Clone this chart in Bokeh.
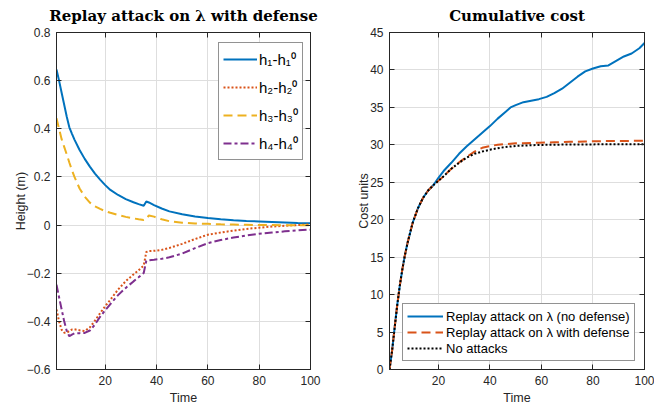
from bokeh.plotting import figure
from bokeh.models import (Legend, LegendItem, LinearAxis, FixedTicker, Range1d,
                          CustomLabelingPolicy)
from bokeh.layouts import row
from bokeh.embed import file_html
from bokeh.resources import INLINE

# ---------------- data: left panel (height deviations) ----------------
t_h = [1, 2, 3, 4, 5, 6, 7, 8, 10, 12, 14, 16, 18, 20, 22, 25, 28, 31, 33, 35,
       36, 37, 39, 42, 45, 50, 55, 60, 65, 70, 75, 80, 85, 90, 95, 100]
h1 = [0.646, 0.60, 0.55, 0.50, 0.45, 0.406, 0.38, 0.355, 0.312, 0.275, 0.243, 0.214,
      0.189, 0.166, 0.146, 0.125, 0.108, 0.095, 0.087, 0.080, 0.098, 0.094, 0.083,
      0.069, 0.057, 0.045, 0.036, 0.029, 0.024, 0.020, 0.017, 0.015, 0.013, 0.011,
      0.009, 0.008]
h2 = [-0.351, -0.40, -0.435, -0.447, -0.447, -0.44, -0.434, -0.433, -0.437, -0.44,
      -0.425, -0.397, -0.366, -0.337, -0.31, -0.268, -0.233, -0.205, -0.188, -0.168,
      -0.112, -0.108, -0.107, -0.103, -0.095, -0.078, -0.058, -0.040, -0.031, -0.023,
      -0.016, -0.011, -0.006, -0.003, 0.000, 0.003]
h3 = [0.444, 0.40, 0.357, 0.325, 0.293, 0.26, 0.229, 0.20, 0.152, 0.118, 0.093, 0.078,
      0.067, 0.058, 0.051, 0.042, 0.034, 0.028, 0.024, 0.021, 0.025, 0.040, 0.035,
      0.024, 0.016, 0.010, 0.007, 0.005, 0.003, 0.002, 0.001, 0.000, 0.000, -0.001,
      -0.001, -0.001]
h4 = [-0.248, -0.30, -0.35, -0.40, -0.44, -0.462, -0.455, -0.45, -0.449, -0.448,
      -0.438, -0.413, -0.381, -0.354, -0.328, -0.291, -0.261, -0.234, -0.217, -0.199,
      -0.148, -0.146, -0.144, -0.140, -0.134, -0.118, -0.096, -0.075, -0.062, -0.052,
      -0.043, -0.036, -0.031, -0.026, -0.022, -0.019]
h_labels = ["h\u2081-h\u2081\u2070", "h\u2082-h\u2082\u2070",
            "h\u2083-h\u2083\u2070", "h\u2084-h\u2084\u2070"]

# ---------------- data: right panel (cumulative cost) ----------------
t_c = [1, 2, 3, 4, 5, 6, 7, 8, 10, 12, 14, 16, 18, 20, 22, 25, 28, 31, 34, 37, 40,
       43, 46, 48, 50, 53, 56, 59, 62, 65, 68, 71, 74, 77, 80, 83, 86, 89, 92, 95,
       98, 100]
cost_no_defense = [0, 2.5, 5.6, 8.6, 11.2, 13.4, 15.3, 16.9, 19.6, 21.5, 22.9, 23.9,
                   24.6, 25.6, 26.5, 27.6, 28.8, 29.8, 30.7, 31.6, 32.5, 33.5, 34.4,
                   35.0, 35.3, 35.7, 35.9, 36.1, 36.4, 36.9, 37.5, 38.3, 39.1, 39.8,
                   40.2, 40.5, 40.6, 41.2, 41.8, 42.2, 42.9, 43.6]
cost_defense = [0, 2.5, 5.6, 8.6, 11.2, 13.4, 15.3, 16.9, 19.6, 21.5, 22.9, 23.9,
                24.6, 25.2, 25.8, 26.8, 27.65, 28.4, 29.1, 29.6, 29.85, 30.0, 30.1,
                30.15, 30.2, 30.22, 30.25, 30.28, 30.3, 30.33, 30.36, 30.4, 30.42,
                30.45, 30.47, 30.49, 30.5, 30.51, 30.52, 30.53, 30.54, 30.55]
cost_no_attack = [0, 2.5, 5.6, 8.6, 11.2, 13.4, 15.3, 16.9, 19.6, 21.5, 22.9, 23.9,
                  24.6, 25.2, 25.8, 26.8, 27.6, 28.3, 28.8, 29.1, 29.35, 29.55, 29.7,
                  29.78, 29.85, 29.9, 29.95, 29.98, 30.0, 30.02, 30.03, 30.04, 30.05,
                  30.06, 30.06, 30.07, 30.07, 30.08, 30.08, 30.08, 30.09, 30.09]
cost_labels = ["Replay attack on \u03bb (no defense)",
               "Replay attack on \u03bb with defense",
               "No attacks"]

x_ticks = [20, 40, 60, 80, 100]
y_ticks_left = [-0.6, -0.4, -0.2, 0, 0.2, 0.4, 0.6, 0.8]
y_ticks_right = [0, 5, 10, 15, 20, 25, 30, 35, 40, 45]

BLUE, ORANGE, YELLOW, PURPLE = "#0072BD", "#D95319", "#EDB120", "#7E2F8E"
AX = "#262626"
FONT = "Liberation Sans"
H = 407


def make_fig(width, mb_left, mb_right, title, ylabel, xr, yr, yt):
    p = figure(width=width, height=H, output_backend="svg", toolbar_location=None,
               x_range=Range1d(*xr), y_range=Range1d(*yr),
               min_border_left=mb_left, min_border_right=mb_right,
               min_border_top=32, min_border_bottom=37)
    no_labels = CustomLabelingPolicy(code="return new Set()")
    p.add_layout(LinearAxis(major_label_policy=no_labels), "right")
    p.add_layout(LinearAxis(major_label_policy=no_labels), "above")
    xt = FixedTicker(ticks=x_ticks)
    ytk = FixedTicker(ticks=yt)
    for ax in p.xaxis:
        ax.ticker = xt
    for ax in p.yaxis:
        ax.ticker = ytk
    p.xgrid.ticker = xt
    p.ygrid.ticker = ytk
    for ax in p.axis:
        ax.major_tick_in = 5
        ax.major_tick_out = 0
        ax.minor_tick_line_color = None
        ax.major_tick_line_color = AX
        ax.axis_line_color = AX
        ax.major_label_text_color = AX
        ax.major_label_text_font = FONT
        ax.major_label_text_font_size = "12px"
        ax.major_label_standoff = 6
        ax.axis_label_text_font = FONT
        ax.axis_label_text_font_size = "12.5px"
        ax.axis_label_text_font_style = "normal"
        ax.axis_label_text_color = AX
        ax.axis_label_standoff = 3
    for ax in (p.right[0], p.above[0]):
        ax.major_label_text_font_size = "1px"
        ax.major_label_standoff = 0
    p.below[0].axis_label = "Time"
    p.left[0].axis_label = ylabel
    p.left[0].axis_label_standoff = -4
    p.grid.grid_line_color = "#dedede"
    p.grid.grid_line_width = 1
    p.outline_line_color = AX
    p.outline_line_alpha = 1
    p.outline_line_width = 1
    p.title.text = title
    p.title.align = "center"
    p.title.text_font = "DejaVu Serif"
    p.title.text_font_style = "bold"
    p.title.text_font_size = "15px"
    p.title.text_color = "#000000"
    p.title.standoff = 7
    return p


# ---------------- left figure ----------------
p1 = make_fig(322, 56, 12, "Replay attack on \u03bb with defense", "Height (m)",
              (1, 100), (-0.6, 0.8), y_ticks_left)
r1 = p1.line(t_h, h1, line_color=BLUE, line_width=2)
r2 = p1.line(t_h, h2, line_color=ORANGE, line_width=2, line_dash="2 2")
r3 = p1.line(t_h, h3, line_color=YELLOW, line_width=2, line_dash="9 5")
r4 = p1.line(t_h, h4, line_color=PURPLE, line_width=2, line_dash="8 3 3 3")
leg1 = Legend(items=[LegendItem(label=lab, renderers=[r])
                     for lab, r in zip(h_labels, [r1, r2, r3, r4])],
              location=(162, 209))
leg1.label_text_font = FONT
leg1.label_text_font_size = "15px"
leg1.label_text_color = "#000000"
leg1.glyph_width = 34
leg1.glyph_height = 24
leg1.label_height = 24
leg1.label_standoff = 2
leg1.spacing = 4
leg1.padding = 4
leg1.margin = 0
leg1.border_line_color = AX
leg1.border_line_width = 1
leg1.background_fill_alpha = 1
p1.add_layout(leg1)

# ---------------- right figure ----------------
p2 = make_fig(332, 67, 10, "Cumulative cost", "Cost units",
              (1, 100), (0, 45), y_ticks_right)
q1 = p2.line(t_c, cost_no_defense, line_color=BLUE, line_width=2)
q2 = p2.line(t_c, cost_defense, line_color=ORANGE, line_width=2, line_dash="9 5")
q3 = p2.line(t_c, cost_no_attack, line_color="#000000", line_width=2, line_dash="2 2")
leg2 = Legend(items=[LegendItem(label=lab, renderers=[r])
                     for lab, r in zip(cost_labels, [q1, q2, q3])],
              location=(13, 8))
leg2.label_text_font = FONT
leg2.label_text_font_size = "13px"
leg2.label_text_color = "#000000"
leg2.glyph_width = 36
leg2.glyph_height = 16
leg2.label_height = 16
leg2.label_standoff = 3
leg2.spacing = 0
leg2.padding = 4
leg2.margin = 0
leg2.border_line_color = AX
leg2.border_line_width = 1
leg2.background_fill_alpha = 1
p2.add_layout(leg2)

layout = row(p1, p2)
open("out.html", "w").write(file_html(layout, INLINE))
